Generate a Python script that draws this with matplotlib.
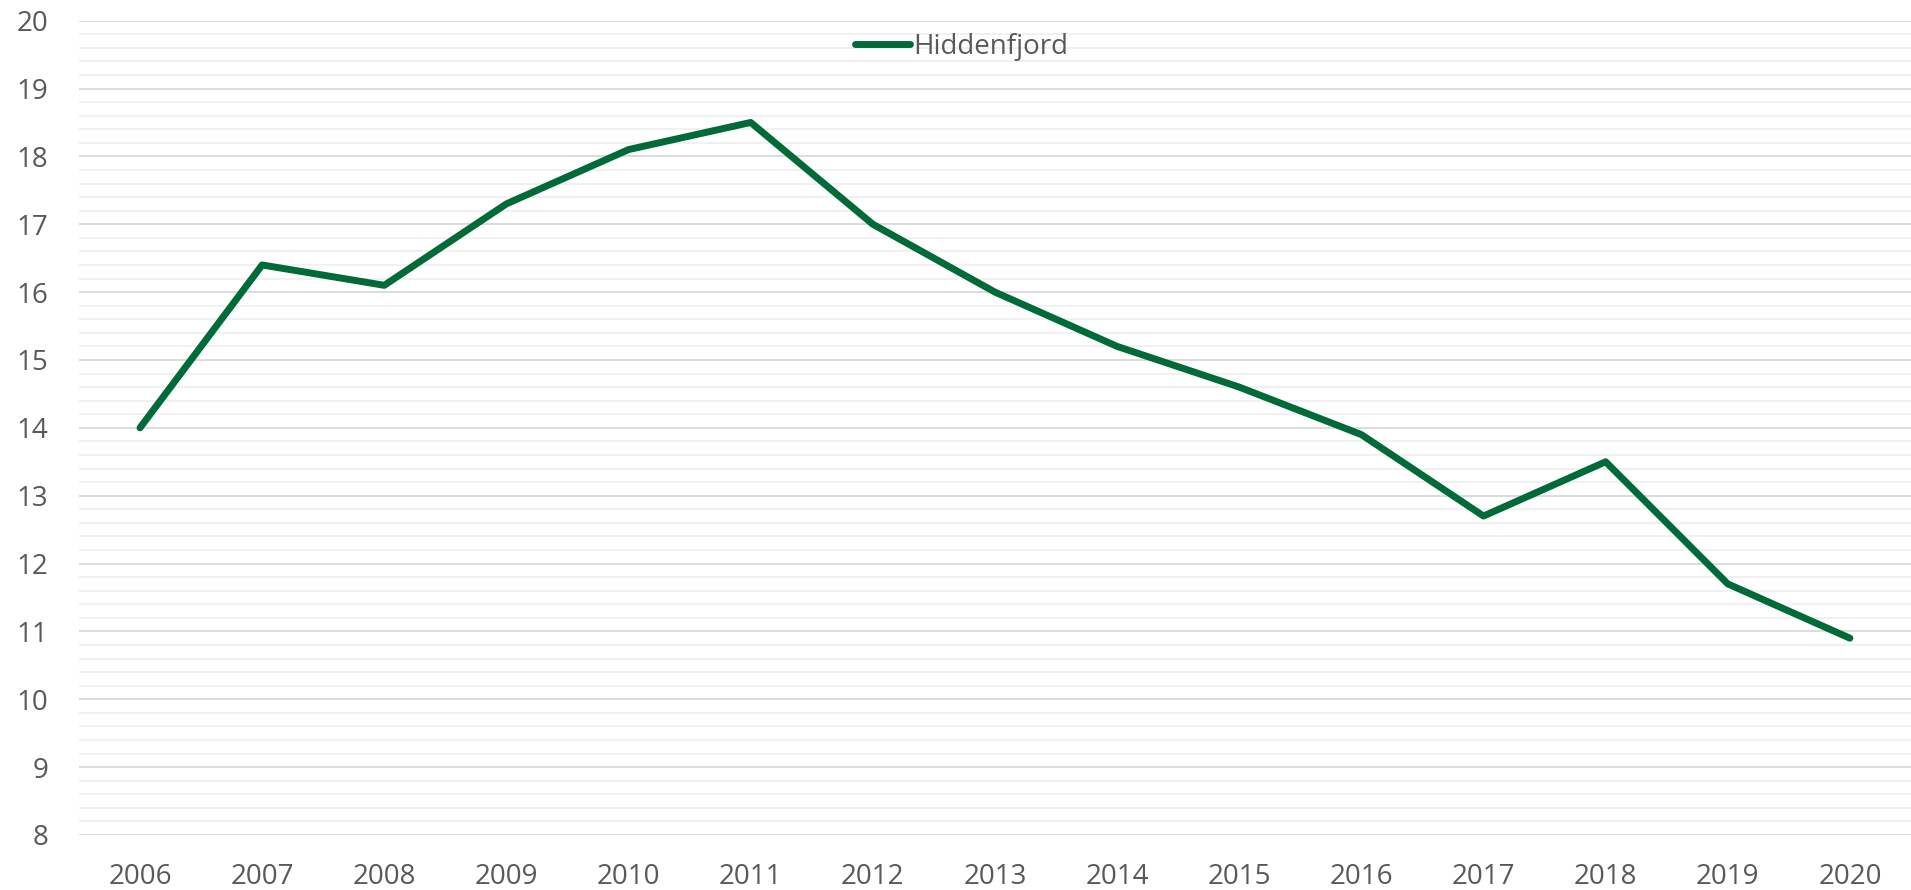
import matplotlib.pyplot as plt
from matplotlib.ticker import MultipleLocator

# data
years = ["2006", "2007", "2008", "2009", "2010", "2011", "2012", "2013",
         "2014", "2015", "2016", "2017", "2018", "2019", "2020"]
hiddenfjord = [14.0, 16.4, 16.1, 17.3, 18.1, 18.5, 17.0, 16.0,
               15.2, 14.6, 13.9, 12.7, 13.5, 11.7, 10.9]

plt.rcParams['font.family'] = ['Open Sans', 'DejaVu Sans']

fig = plt.figure(figsize=(19.11, 8.90), dpi=100)
ax = fig.add_axes([0.0413, 0.0618, 0.9587, 0.915])

x = list(range(len(years)))
ax.plot(x, hiddenfjord, color="#006a38", lw=5, solid_capstyle="round",
        solid_joinstyle="round", label="Hiddenfjord", zorder=3)

ax.set_xlim(-0.5, len(years) - 0.5)
ax.set_ylim(8, 20)
ax.set_xticks(x)
ax.set_xticklabels(years)
ax.yaxis.set_major_locator(MultipleLocator(1))
ax.yaxis.set_minor_locator(MultipleLocator(0.2))

ax.grid(which="major", axis="y", color="#d9d9d9", lw=1.3)
ax.grid(which="minor", axis="y", color="#f0f0f0", lw=1.3)
ax.set_axisbelow(True)

for s in ax.spines.values():
    s.set_visible(False)

ax.tick_params(axis="both", which="both", length=0, labelsize=20, colors="#595959")
ax.tick_params(axis="y", pad=22)
ax.tick_params(axis="x", pad=20)

leg = fig.legend(loc="center", bbox_to_anchor=(0.503, 0.947), frameon=False,
                 fontsize=20, handlelength=2.0, handletextpad=0.1, borderaxespad=0)
for t in leg.get_texts():
    t.set_color("#595959")

fig.savefig("out.png", dpi=100)
